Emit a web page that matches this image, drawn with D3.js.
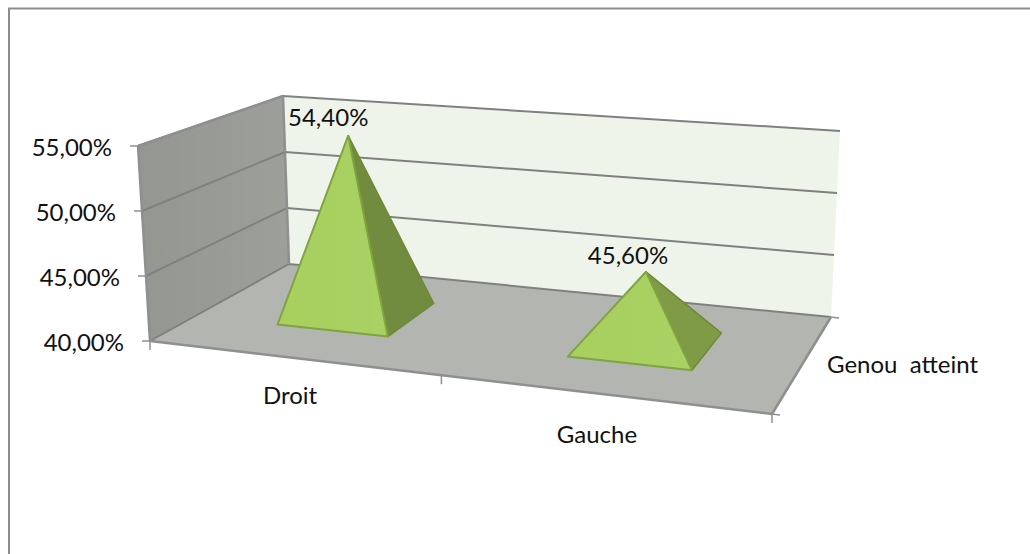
<!DOCTYPE html>
<html>
<head>
<meta charset="utf-8">
<script src="https://cdn.jsdelivr.net/npm/d3@7"></script>
<style>
    html, body { margin: 0; padding: 0; background: #fff; }
    svg { display: block; }
    text { font-family: Lato, "Open Sans", sans-serif; fill: #111; }
</style>
</head>
<body>
<div id="chart"></div>
<script>
// Chart data
const categories = ["Droit", "Gauche"];
const values = [0.544, 0.456];
const valueLabels = ["54,40%", "45,60%"];
const tickValues = [0.40, 0.45, 0.50, 0.55];
const tickLabels = ["40,00%", "45,00%", "50,00%", "55,00%"];
const depthTitle = "Genou  atteint";

const width = 1030, height = 554;
const fontSize = "24px";

const svg = d3.select("#chart").append("svg")
    .attr("width", width)
    .attr("height", height);

// Frame: only top and left borders fall inside the picture
svg.append("path")
    .attr("d", `M9,${height}V8.5H${width}`)
    .attr("fill", "none")
    .attr("stroke", "#8c8c8c")
    .attr("stroke-width", 2);

// Corners of the 3D box on screen: front-left, front-right, back-right, back-left
const floorQuad = [[150, 341], [772, 414], [831, 317], [289, 264]];
const roofQuad = [[138, 146], [786, 199], [840, 131], [283, 96]];

// Perspective map of the unit square to a quad
function quadMap(q) {
    const [p0, p1, p2, p3] = q;
    const dx1 = p1[0] - p2[0], dx2 = p3[0] - p2[0], sx = p0[0] - p1[0] + p2[0] - p3[0];
    const dy1 = p1[1] - p2[1], dy2 = p3[1] - p2[1], sy = p0[1] - p1[1] + p2[1] - p3[1];
    const den = dx1 * dy2 - dx2 * dy1;
    const g = (sx * dy2 - dx2 * sy) / den;
    const h = (dx1 * sy - sx * dy1) / den;
    const a = p1[0] - p0[0] + g * p1[0], b = p3[0] - p0[0] + h * p3[0];
    const d = p1[1] - p0[1] + g * p1[1], e = p3[1] - p0[1] + h * p3[1];
    return (u, v) => {
        const w = g * u + h * v + 1;
        return [(a * u + b * v + p0[0]) / w, (d * u + e * v + p0[1]) / w];
    };
}
const floorAt = quadMap(floorQuad);
const roofAt = quadMap(roofQuad);

// Scales: category along the front edge, depth into the box, value up the walls
const xBand = d3.scaleBand().domain(categories).range([0, 1]).paddingInner(0.606).paddingOuter(0.303);
const zScale = d3.scaleLinear().domain([0, 1]).range([0.30, 0.70]);
const yScale = d3.scaleLinear().domain([0.40, 0.55]).range([0, 1]);

// Screen position of a point in the box
function project(u, v, t) {
    const a = floorAt(u, v), b = roofAt(u, v);
    return [a[0] + (b[0] - a[0]) * t, a[1] + (b[1] - a[1]) * t];
}
const poly = pts => "M" + pts.map(p => p.map(n => n.toFixed(1)).join(",")).join("L") + "Z";

// Gradients
const defs = svg.append("defs");
const wallGrad = defs.append("linearGradient").attr("id", "sideWall")
    .attr("x1", 0).attr("y1", 0).attr("x2", 1).attr("y2", 0);
wallGrad.append("stop").attr("offset", "0%").attr("stop-color", "#949692");
wallGrad.append("stop").attr("offset", "100%").attr("stop-color", "#9d9f9b");
const faceGrad = defs.append("linearGradient").attr("id", "frontFace")
    .attr("x1", 0).attr("y1", 0).attr("x2", 1).attr("y2", 0);
faceGrad.append("stop").attr("offset", "0%").attr("stop-color", "#a8d05f");
faceGrad.append("stop").attr("offset", "100%").attr("stop-color", "#a9d163");

// Back wall
svg.append("path")
    .attr("d", poly([project(0, 1, 0), project(1, 1, 0), project(1, 1, 1), project(0, 1, 1)]))
    .attr("fill", "#eff4eb");

// Side wall
svg.append("path")
    .attr("d", poly([project(0, 0, 0), project(0, 1, 0), project(0, 1, 1), project(0, 0, 1)]))
    .attr("fill", "url(#sideWall)");

// Floor
svg.append("path")
    .attr("d", poly([project(0, 0, 0), project(1, 0, 0), project(1, 1, 0), project(0, 1, 0)]))
    .attr("fill", "#b3b5b0");

// Gridlines on both walls
const gridLine = d3.line();
tickValues.forEach(v => {
    const t = yScale(v);
    svg.append("path")
        .attr("d", gridLine([project(0, 0, t), project(0, 1, t), project(1, 1, t)]))
        .attr("fill", "none")
        .attr("stroke", "#808080")
        .attr("stroke-width", 2);
});

// Box edges
const edges = [
    [project(0, 0, 0), project(0, 0, 1)],
    [project(0, 1, 0), project(0, 1, 1)],
    [project(0, 0, 1), project(0, 1, 1)],
    [project(0, 0, 0), project(1, 0, 0)],
    [project(1, 0, 0), project(1, 1, 0)]
];
edges.forEach(e => {
    svg.append("path")
        .attr("d", gridLine(e))
        .attr("fill", "none")
        .attr("stroke", "#8f8f8f")
        .attr("stroke-width", 2.5);
});

// Value axis ticks and labels
tickValues.forEach((v, i) => {
    const p = project(0, 0, yScale(v));
    svg.append("line")
        .attr("x1", p[0] - 8).attr("x2", p[0] + 1)
        .attr("y1", p[1]).attr("y2", p[1])
        .attr("stroke", "#8f8f8f").attr("stroke-width", 1.5);
    svg.append("text")
        .attr("x", p[0] - 26)
        .attr("y", p[1] + 10)
        .attr("text-anchor", "end")
        .style("font-size", fontSize)
        .text(tickLabels[i]);
});

// Category axis ticks and labels
[0, 0.5, 1].forEach(u => {
    const p = project(u, 0, 0);
    svg.append("line")
        .attr("x1", p[0]).attr("x2", p[0])
        .attr("y1", p[1] - 1).attr("y2", p[1] + 9)
        .attr("stroke", "#8f8f8f").attr("stroke-width", 1.5);
});
const catLabelPos = [[290, 404], [597, 443]];
categories.forEach((c, i) => {
    svg.append("text")
        .attr("x", catLabelPos[i][0])
        .attr("y", catLabelPos[i][1])
        .attr("text-anchor", "middle")
        .style("font-size", fontSize)
        .text(c);
});

// Depth axis ticks and title
[project(1, 0, 0), project(1, 1, 0)].forEach(p => {
    svg.append("line")
        .attr("x1", p[0] - 1).attr("x2", p[0] + 8)
        .attr("y1", p[1]).attr("y2", p[1] + 1)
        .attr("stroke", "#8f8f8f").attr("stroke-width", 1.5);
});
svg.append("text")
    .attr("x", 827)
    .attr("y", 373)
    .style("font-size", fontSize)
    .style("white-space", "pre")
    .text(depthTitle);

// Pyramids
const darkFaces = ["#728c3f", "#7f9b46"];
const labelShift = [[-20, -10], [-18, -8]];
categories.forEach((c, i) => {
    const u0 = xBand(c), u1 = u0 + xBand.bandwidth();
    const z0 = zScale(0), z1 = zScale(1);
    const apex = project((u0 + u1) / 2, (z0 + z1) / 2, yScale(values[i]));
    const fl = project(u0, z0, 0), fr = project(u1, z0, 0), br = project(u1, z1, 0);

    svg.append("path")
        .attr("d", poly([fr, br, apex]))
        .attr("fill", darkFaces[i])
        .attr("stroke", "#6c8a38")
        .attr("stroke-width", 1.5)
        .attr("stroke-linejoin", "round");
    svg.append("path")
        .attr("d", poly([fl, fr, apex]))
        .attr("fill", "url(#frontFace)")
        .attr("stroke", "#7fa440")
        .attr("stroke-width", 2)
        .attr("stroke-linejoin", "round");

    svg.append("text")
        .attr("x", apex[0] + labelShift[i][0])
        .attr("y", apex[1] + labelShift[i][1])
        .attr("text-anchor", "middle")
        .style("font-size", fontSize)
        .text(valueLabels[i]);
});
</script>
</body>
</html>
